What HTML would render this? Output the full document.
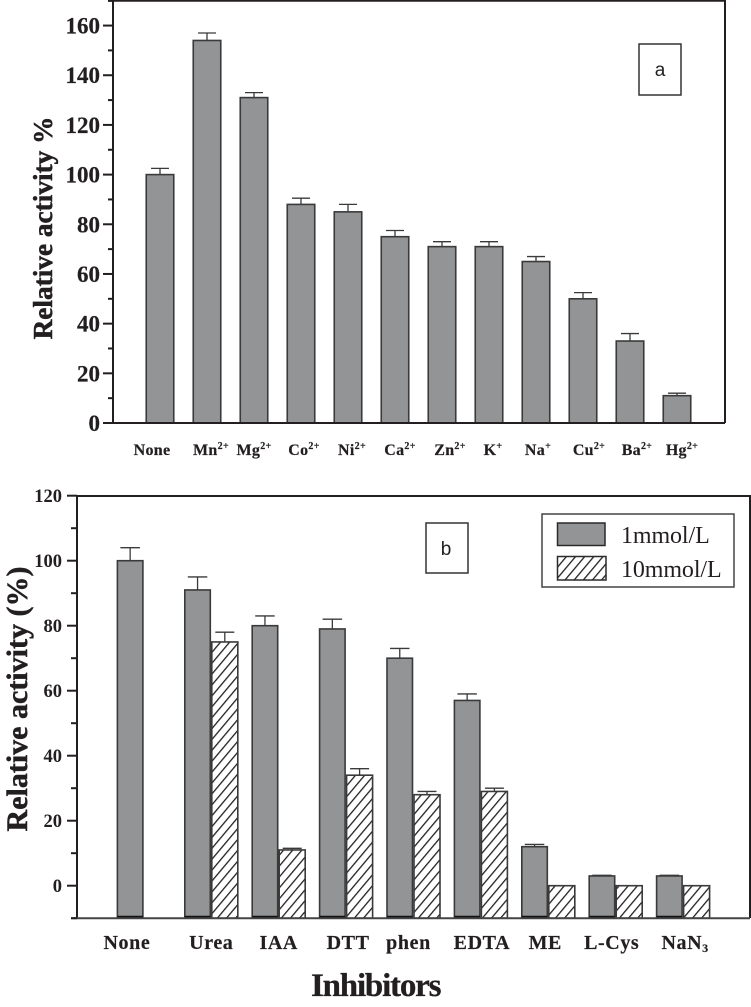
<!DOCTYPE html>
<html>
<head>
<meta charset="utf-8">
<title>Relative activity charts</title>
<style>
html,body{margin:0;padding:0;background:#fff;}
svg{display:block;}
text{font-family:"Liberation Serif",serif;fill:#231f20;}
</style>
</head>
<body>
<svg id="fig" xmlns="http://www.w3.org/2000/svg" width="751" height="1007" viewBox="0 0 751 1007">
  <defs>
    <pattern id="hatch" width="7" height="7" patternUnits="userSpaceOnUse" patternTransform="rotate(40)">
      <line x1="0" y1="0" x2="0" y2="7" stroke="#231f20" stroke-width="2.6"></line>
    </pattern>
  </defs>
  <rect x="639" y="44" width="42" height="51" fill="#fff" stroke="#333" stroke-width="1.5"></rect>
  <text x="660" y="76" text-anchor="middle" style="font-family:'Liberation Sans',sans-serif;font-size:19px">a</text>
  <rect x="426" y="523" width="42" height="50" fill="#fff" stroke="#333" stroke-width="1.5"></rect>
  <text x="446" y="555" text-anchor="middle" style="font-family:'Liberation Sans',sans-serif;font-size:19px">b</text>
  <g>
    <rect x="542" y="514" width="192" height="73" fill="#fff" stroke="#444" stroke-width="1.5"></rect>
    <rect x="557.5" y="523" width="47.5" height="22.5" fill="#929496" stroke="#2a2a2a" stroke-width="1.5"></rect>
    <text x="621" y="543" style="font-size:24px;letter-spacing:-0.1px">1mmol/L</text>
    <rect x="557.5" y="556.5" width="48.5" height="23.5" fill="url(#hatch)" stroke="#2a2a2a" stroke-width="1.5"></rect>
    <text x="621" y="577" style="font-size:24px;letter-spacing:-0.1px">10mmol/L</text>
  </g>
  <text transform="translate(52,228) rotate(-90)" text-anchor="middle" style="font-size:27.3px;font-weight:bold;stroke:#231f20;stroke-width:0.5px">Relative activity %</text>
  <text transform="translate(27,699) rotate(-90)" text-anchor="middle" style="font-size:30px;font-weight:bold;stroke:#231f20;stroke-width:0.5px">Relative activity (%)</text>
  <text x="311" y="996" style="font-size:33px;font-weight:bold;letter-spacing:-1.2px;stroke:#231f20;stroke-width:0.3px">Inhibitors</text>
</svg>
<script>
// Panel a data
var catsA = ["None","Mn","Mg","Co","Ni","Ca","Zn","K","Na","Cu","Ba","Hg"];
var ionsA = ["","2+","2+","2+","2+","2+","2+","+","+","2+","2+","2+"];
var valuesA = [100,154,131,88,85,75,71,71,65,50,33,11];
var errorsA = [2.5,3,2,2.5,3,2.5,2,2,2,2.5,3,1];
var majorTicksA = [0,20,40,60,80,100,120,140,160];
var minorTicksA = [10,30,50,70,90,110,130,150,170];

// Panel b data
var catsB = ["None","Urea","IAA","DTT","phen","EDTA","ME","L-Cys","NaN"];
var subsB = ["","","","","","","","","3"];
var values1mM = [100,91,80,79,70,57,12,3,3];
var errors1mM = [4,4,3,3,3,2,0.7,0.2,0.2];
var values10mM = [null,75,11,34,28,29,0,0,0];
var errors10mM = [0,3,0.5,2,1,1,0,0,0];
var majorTicksB = [0,20,40,60,80,100,120];
var minorTicksB = [-10,10,30,50,70,90,110];

var NS = "http://www.w3.org/2000/svg";
var svg = document.getElementById("fig");
var BAR_STROKE = "#3a3a3a";
var INK = "#231f20";

function mk(tag, attrs, parent) {
  var el = document.createElementNS(NS, tag);
  for (var k in attrs) el.setAttribute(k, attrs[k]);
  (parent || svg).appendChild(el);
  return el;
}
function yA(v) { return 423 - v * 2.484; }
function xA(i) { return 160 + 47 * i; }
function yB(v) { return 885.7 - v * 3.25; }
function xB(i) { return 117.4 + 67.4 * i; }

// Label placement tweaks, per category, relative to bar centres
var nudgeA = [-8,4,0,3,4,5,8,4,2,6,7,5];
var nudgeB = [-17,0,0,2,-5,1,-3,-4,2];

var el, g, i, v;

// Panel a bars
for (i = 0; i < valuesA.length; i++) {
  g = mk("g", {});
  
  
  v = valuesA[i];
  el = mk("line", {x1:xA(i), x2:xA(i), y1:yA(v), y2:yA(v + errorsA[i]), stroke:BAR_STROKE, "stroke-width":1.3}, g);
  
  
  el = mk("line", {x1:xA(i) - 9, x2:xA(i) + 9, y1:yA(v + errorsA[i]), y2:yA(v + errorsA[i]), stroke:BAR_STROKE, "stroke-width":1.3}, g);
  
  
  el = mk("rect", {x:xA(i) - 13.75, y:yA(v), width:27.5, height:yA(0) - yA(v), fill:"#929496", stroke:BAR_STROKE, "stroke-width":1.6}, g);
  
  

  el = mk("text", {x:xA(i) + nudgeA[i], y:455, "text-anchor":"middle", style:"font-size:16px;font-weight:bold;letter-spacing:0.3px;stroke:#231f20;stroke-width:0.2px"});
  
  
  el.appendChild(document.createTextNode(catsA[i]));
  if (ionsA[i]) {
    var sup = mk("tspan", {dy:-6, style:"font-size:10px"}, el);
    sup.textContent = ionsA[i];
  }
}

// Panel b bars
for (i = 0; i < values1mM.length; i++) {
  g = mk("g", {});
  
  
  v = values1mM[i];
  var x1 = xB(i);
  el = mk("line", {x1:x1 + 12.75, x2:x1 + 12.75, y1:yB(v), y2:yB(v + errors1mM[i]), stroke:BAR_STROKE, "stroke-width":1.3}, g);
  
  
  el = mk("line", {x1:x1 + 3, x2:x1 + 22.5, y1:yB(v + errors1mM[i]), y2:yB(v + errors1mM[i]), stroke:BAR_STROKE, "stroke-width":1.3}, g);
  
  
  el = mk("rect", {x:x1, y:yB(v), width:25.5, height:yB(-10) - yB(v), fill:"#929496", stroke:BAR_STROKE, "stroke-width":1.6}, g);
  
  
  el = mk("line", {x1:x1, x2:x1 + 25.5, y1:yB(-10) - 1.5, y2:yB(-10) - 1.5, stroke:"#111", "stroke-width":2}, g);
  
  

  if (values10mM[i] !== null) {
    var w = values10mM[i];
    var x2 = x1 + 27;
    el = mk("line", {x1:x2 + 13, x2:x2 + 13, y1:yB(w), y2:yB(w + errors10mM[i]), stroke:BAR_STROKE, "stroke-width":1.3}, g);
    
    
    el = mk("line", {x1:x2 + 3.5, x2:x2 + 22.5, y1:yB(w + errors10mM[i]), y2:yB(w + errors10mM[i]), stroke:BAR_STROKE, "stroke-width":1.3}, g);
    
    
    el = mk("rect", {x:x2, y:yB(w), width:26, height:yB(-10) - yB(w), fill:"#fff"}, g);
    
    
    el = mk("rect", {x:x2, y:yB(w), width:26, height:yB(-10) - yB(w), fill:"url(#hatch)", stroke:BAR_STROKE, "stroke-width":1.6}, g);
    
    
  }

  el = mk("text", {x:x1 + 26.5 + nudgeB[i], y:949, "text-anchor":"middle", style:"font-size:20px;font-weight:bold;letter-spacing:0.6px;stroke:#231f20;stroke-width:0.2px"});
  
  
  el.appendChild(document.createTextNode(catsB[i]));
  if (subsB[i]) {
    var sub = mk("tspan", {dy:3, style:"font-size:12px"}, el);
    sub.textContent = subsB[i];
  }
}

// Panel a frame
el = mk("polyline", {points:"113,423 113,0.8 725,0.8 725,423", fill:"none", stroke:INK, "stroke-width":2});


el = mk("line", {x1:103, x2:725, y1:yA(0), y2:yA(0), stroke:INK, "stroke-width":2});


el = mk("line", {x1:108, x2:113, y1:0.8, y2:0.8, stroke:INK, "stroke-width":2});



for (i = 0; i < majorTicksA.length; i++) {
  el = mk("line", {x1:103, x2:113, y1:yA(majorTicksA[i]), y2:yA(majorTicksA[i]), stroke:INK, "stroke-width":2});
  
  
  el = mk("text", {x:100, y:yA(majorTicksA[i]) + 8, "text-anchor":"end", style:"font-size:23px;font-weight:bold;stroke:#231f20;stroke-width:0.2px"});
  
  
  el.textContent = majorTicksA[i];
}
for (i = 0; i < minorTicksA.length; i++) {
  el = mk("line", {x1:108, x2:113, y1:yA(minorTicksA[i]), y2:yA(minorTicksA[i]), stroke:INK, "stroke-width":2});
  
  
}

// Panel b frame
el = mk("polyline", {points:"77,918 77,496 750,496 750,918", fill:"none", stroke:INK, "stroke-width":2});


el = mk("line", {x1:71, x2:750, y1:yB(-10), y2:yB(-10), stroke:"#444", "stroke-width":2});



for (i = 0; i < majorTicksB.length; i++) {
  el = mk("line", {x1:67, x2:77, y1:yB(majorTicksB[i]), y2:yB(majorTicksB[i]), stroke:INK, "stroke-width":2});
  
  
  el = mk("text", {x:62, y:yB(majorTicksB[i]) + 6.5, "text-anchor":"end", style:"font-size:18.5px;font-weight:bold"});
  
  
  el.textContent = majorTicksB[i];
}
for (i = 0; i < minorTicksB.length; i++) {
  el = mk("line", {x1:71, x2:77, y1:yB(minorTicksB[i]), y2:yB(minorTicksB[i]), stroke:INK, "stroke-width":2});
  
  
}
</script>
</body>
</html>
